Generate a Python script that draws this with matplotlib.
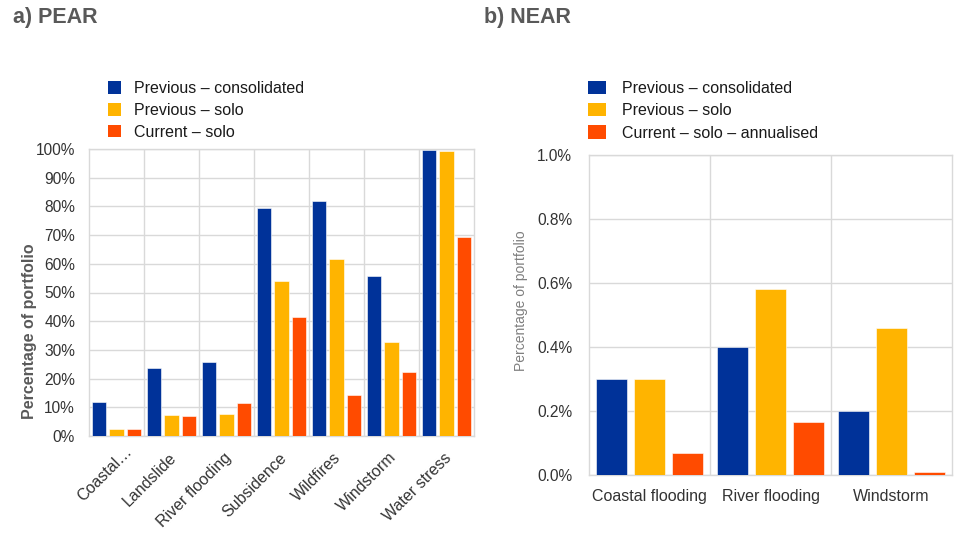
import numpy as np
import matplotlib
matplotlib.use("Agg")
import matplotlib.pyplot as plt
import matplotlib.transforms as mtransforms
from matplotlib.patches import Patch

plt.rcParams['font.family'] = ['Liberation Sans', 'DejaVu Sans']

# --- data -------------------------------------------------------------
pear_cats = ['Coastal…', 'Landslide', 'River flooding', 'Subsidence',
             'Wildfires', 'Windstorm', 'Water stress']
pear_prev_cons = [11.7, 23.7, 25.7, 79.5, 82.0, 55.7, 99.7]
pear_prev_solo = [2.4, 7.2, 7.6, 54.0, 61.5, 32.9, 99.4]
pear_curr_solo = [2.4, 6.9, 11.4, 41.5, 14.3, 22.3, 69.5]
pear_labels = ['Previous – consolidated', 'Previous – solo', 'Current – solo']

near_cats = ['Coastal flooding', 'River flooding', 'Windstorm']
near_prev_cons = [0.30, 0.40, 0.20]
near_prev_solo = [0.30, 0.58, 0.46]
near_curr_solo = [0.07, 0.167, 0.008]
near_labels = ['Previous – consolidated', 'Previous – solo',
               'Current – solo – annualised']

colors = ['#003299', '#FFB400', '#FF4B00']
grid_col = '#d9d9d9'
title_col = '#595959'
tick_col = '#333333'

fig = plt.figure(figsize=(9.56, 5.33), dpi=100)

ax1 = fig.add_axes([89 / 956, 1 - 436 / 533, 385 / 956, 287 / 533])
ax2 = fig.add_axes([589 / 956, 1 - 475 / 533, 363 / 956, 320 / 533])

offs = [-0.315, 0.0, 0.315]
width = 0.255


def draw(ax, cats, series, ymax, step, fmt):
    x = np.arange(len(cats))
    for i, vals in enumerate(series):
        ax.bar(x + offs[i], vals, width, color=colors[i],
               edgecolor='white', linewidth=0.4, zorder=3)
    ax.set_xlim(-0.5, len(cats) - 0.5)
    ax.set_ylim(0, ymax)
    ax.set_yticks(np.arange(0, ymax + step / 2, step))
    ax.set_yticklabels([fmt.format(v) for v in np.arange(0, ymax + step / 2, step)])
    ax.set_xticks(x)
    ax.set_xticks(np.arange(0.5, len(cats) - 0.5, 1), minor=True)
    ax.grid(axis='y', which='major', color=grid_col, linewidth=1, zorder=0)
    ax.grid(axis='x', which='minor', color=grid_col, linewidth=1, zorder=0)
    ax.tick_params(which='both', length=0, labelsize=11.2, colors=tick_col)
    ax.tick_params(axis='y', pad=10)
    for s in ax.spines.values():
        s.set_color(grid_col)
        s.set_linewidth(1)


draw(ax1, pear_cats, [pear_prev_cons, pear_prev_solo, pear_curr_solo],
     100, 10, '{:.0f}%')
draw(ax2, near_cats, [near_prev_cons, near_prev_solo, near_curr_solo],
     1.0, 0.2, '{:.1f}%')

ax1.set_xticklabels(pear_cats, rotation=45, ha='right', rotation_mode='anchor')
ax1.tick_params(axis='x', pad=10, labelsize=11.5)
for i, lab in enumerate(ax1.get_xticklabels()):
    dx, dy = (-3, 0) if i > 0 else (8, 6)
    shift = mtransforms.ScaledTranslation(dx / 100, dy / 100, fig.dpi_scale_trans)
    lab.set_transform(lab.get_transform() + shift)

ax2.set_xticklabels(near_cats)
ax2.tick_params(axis='x', pad=10, labelsize=11.5)
ax2.tick_params(axis='y', pad=12)

# titles
fig.text(13 / 956, 1 - 18 / 533, 'a) PEAR', fontsize=15.5, fontweight='bold',
         color=title_col, ha='left', va='center')
fig.text(484 / 956, 1 - 18 / 533, 'b) NEAR', fontsize=15.5, fontweight='bold',
         color=title_col, ha='left', va='center')

# y labels
fig.text(30 / 956, 1 - 331 / 533, 'Percentage of portfolio', rotation=90,
         fontsize=11.5, fontweight='bold', color=title_col, ha='center', va='center')
fig.text(521 / 956, 1 - 301 / 533, 'Percentage of portfolio', rotation=90,
         fontsize=10, color='#7f7f7f', ha='center', va='center')

# legends
h1 = [Patch(facecolor=c, edgecolor='none') for c in colors]
fig.legend(h1, pear_labels, loc='upper left',
           bbox_to_anchor=(108 / 956, 1 - 81 / 533), frameon=False,
           fontsize=11.5, handlelength=0.82, handleheight=0.82,
           handletextpad=0.8, labelspacing=0.43, borderpad=0, borderaxespad=0,
           labelcolor='#1a1a1a')
fig.legend(h1, near_labels, loc='upper left',
           bbox_to_anchor=(588 / 956, 1 - 81 / 533), frameon=False,
           fontsize=11.5, handlelength=1.15, handleheight=0.88,
           handletextpad=1.0, labelspacing=0.45, borderpad=0, borderaxespad=0,
           labelcolor='#1a1a1a')

fig.savefig('out.png', dpi=100)
